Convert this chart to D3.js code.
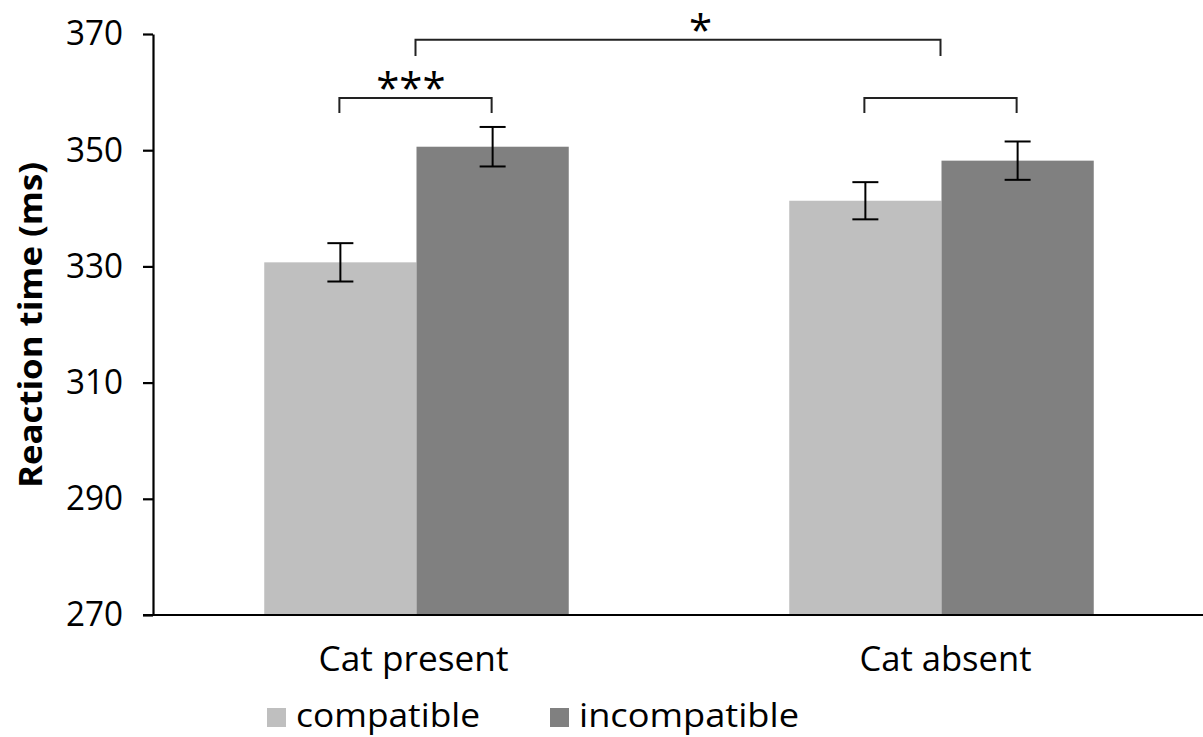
<!DOCTYPE html>
<html>
<head>
<meta charset="utf-8">
<script src="https://cdn.jsdelivr.net/npm/d3@7"></script>
<style>
	body { margin: 0; background: #fff; }
	svg { display: block; font-family: "Open Sans", "Noto Sans", sans-serif; }
	.axis path, .axis line { stroke: #000; stroke-width: 2.2px; }
	.axis text { font-family: "Open Sans", "Noto Sans", sans-serif; font-size: 34px; fill: #000; }
</style>
</head>
<body>
<div id="graphic"></div>
<script>
// data
const categories = ['Cat present', 'Cat absent'];
const conditions = ['compatible', 'incompatible'];
const means = [[330.7, 350.6], [341.3, 348.2]];
const errors = [[3.3, 3.4], [3.2, 3.3]];
const yTicks = [270, 290, 310, 330, 350, 370];
const colours = ['#bfbfbf', '#808080'];

// significance brackets: [category, condition] or [category] for the group centre
const brackets = [
	{ from: ['Cat present', 'compatible'], to: ['Cat present', 'incompatible'], level: 359, drop: 2.6, label: '***', labelAt: 0.47 },
	{ from: ['Cat absent', 'compatible'], to: ['Cat absent', 'incompatible'], level: 359, drop: 2.6, label: '', labelAt: 0.5 },
	{ from: ['Cat present'], to: ['Cat absent'], level: 369, drop: 2.8, label: '*', labelAt: 0.543 }
];

const width = 1203, height = 737;
const margin = { top: 34, right: 0, bottom: 122, left: 153 };
const chart_width = width - margin.left - margin.right;
const chart_height = height - margin.top - margin.bottom;

const graphic_data = categories.flatMap((c, i) =>
	conditions.map((k, j) => ({ category: c, condition: k, value: means[i][j], err: errors[i][j] }))
);

const svg = d3.select('#graphic')
	.append('svg')
	.attr('width', width)
	.attr('height', height)
	.append('g')
	.attr('transform', 'translate(' + margin.left + ',' + margin.top + ')');

const x0 = d3.scaleBand()
	.domain(categories)
	.range([0, chart_width])
	.paddingInner(0.42)
	.paddingOuter(0.21);

const x1 = d3.scaleBand()
	.domain(conditions)
	.range([0, x0.bandwidth()]);

const y = d3.scaleLinear()
	.domain([270, 370])
	.range([chart_height, 0]);

const colour = d3.scaleOrdinal().domain(conditions).range(colours);

// bars
svg.append('g')
	.selectAll('rect')
	.data(graphic_data)
	.join('rect')
	.attr('x', (d) => x0(d.category) + x1(d.condition) + 1)
	.attr('y', (d) => y(d.value))
	.attr('width', x1.bandwidth())
	.attr('height', (d) => y(270) - y(d.value))
	.attr('fill', (d) => colour(d.condition));

// error bars
const capHalf = 13;
const eb = svg.append('g')
	.attr('stroke', '#000')
	.attr('stroke-width', 2)
	.selectAll('g')
	.data(graphic_data)
	.join('g')
	.attr('transform', (d) => 'translate(' + (x0(d.category) + x1(d.condition) + x1.bandwidth() / 2 + 1) + ',0)');

eb.append('line')
	.attr('y1', (d) => y(d.value + d.err))
	.attr('y2', (d) => y(d.value - d.err));
eb.append('line')
	.attr('x1', -capHalf).attr('x2', capHalf)
	.attr('y1', (d) => y(d.value + d.err)).attr('y2', (d) => y(d.value + d.err));
eb.append('line')
	.attr('x1', -capHalf).attr('x2', capHalf)
	.attr('y1', (d) => y(d.value - d.err)).attr('y2', (d) => y(d.value - d.err));

// y axis
svg.append('g')
	.attr('class', 'y axis')
	.call(d3.axisLeft(y).tickValues(yTicks).tickSize(10).tickSizeOuter(0).tickPadding(20))
	.selectAll('text')
	.attr('textLength', 57)
	.attr('lengthAdjust', 'spacingAndGlyphs');

// x axis, no ticks, line runs to the left under the y ticks
const xAxis = svg.append('g')
	.attr('class', 'x axis')
	.attr('transform', 'translate(0,' + chart_height + ')');
xAxis.append('line')
	.attr('x1', -10)
	.attr('x2', chart_width);
xAxis.selectAll('text')
	.data(categories)
	.join('text')
	.attr('x', (d) => x0(d) + x0.bandwidth() / 2 + (d === 'Cat absent' ? 5 : -2))
	.attr('y', 56)
	.attr('text-anchor', 'middle')
	.attr('textLength', (d) => d === 'Cat present' ? 190 : 172)
	.attr('lengthAdjust', 'spacingAndGlyphs')
	.text((d) => d);

// brackets
const bx = (ref) => ref.length === 1
	? x0(ref[0]) + x0.bandwidth() / 2
	: x0(ref[0]) + x1(ref[1]) + x1.bandwidth() / 2;

const br = svg.append('g')
	.selectAll('g')
	.data(brackets)
	.join('g');

br.append('path')
	.attr('fill', 'none')
	.attr('stroke', '#222')
	.attr('stroke-width', 2)
	.attr('d', (d) => {
		const xa = bx(d.from), xb = bx(d.to);
		const ya = y(d.level), yb = y(d.level - d.drop);
		return 'M' + xa + ',' + yb + 'V' + ya + 'H' + xb + 'V' + yb;
	});

br.append('text')
	.attr('x', (d) => bx(d.from) + (bx(d.to) - bx(d.from)) * d.labelAt)
	.attr('y', (d) => y(d.level) + 5)
	.attr('text-anchor', 'middle')
	.style('font-size', '42px')
	.style('fill', '#000')
	.text((d) => d.label);

// y axis title
svg.append('text')
	.attr('transform', 'translate(' + (-margin.left + 42) + ',' + (325 - margin.top) + ') rotate(-90)')
	.attr('text-anchor', 'middle')
	.style('font-size', '33px')
	.style('font-weight', 'bold')
	.attr('textLength', 326)
	.attr('lengthAdjust', 'spacingAndGlyphs')
	.text('Reaction time (ms)');

// legend
const legendX = [267 - margin.left, 550 - margin.left];
const lg = svg.append('g')
	.attr('transform', 'translate(0,' + (chart_height + 93) + ')')
	.selectAll('g')
	.data(conditions)
	.join('g')
	.attr('transform', (d, i) => 'translate(' + legendX[i] + ',0)');
lg.append('rect')
	.attr('width', 19)
	.attr('height', 19)
	.attr('fill', (d) => colour(d));
lg.append('text')
	.attr('x', 29)
	.attr('y', 19)
	.style('font-size', '32px')
	.attr('textLength', (d) => d === 'compatible' ? 184 : 220)
	.attr('lengthAdjust', 'spacingAndGlyphs')
	.text((d) => d);
</script>
</body>
</html>
